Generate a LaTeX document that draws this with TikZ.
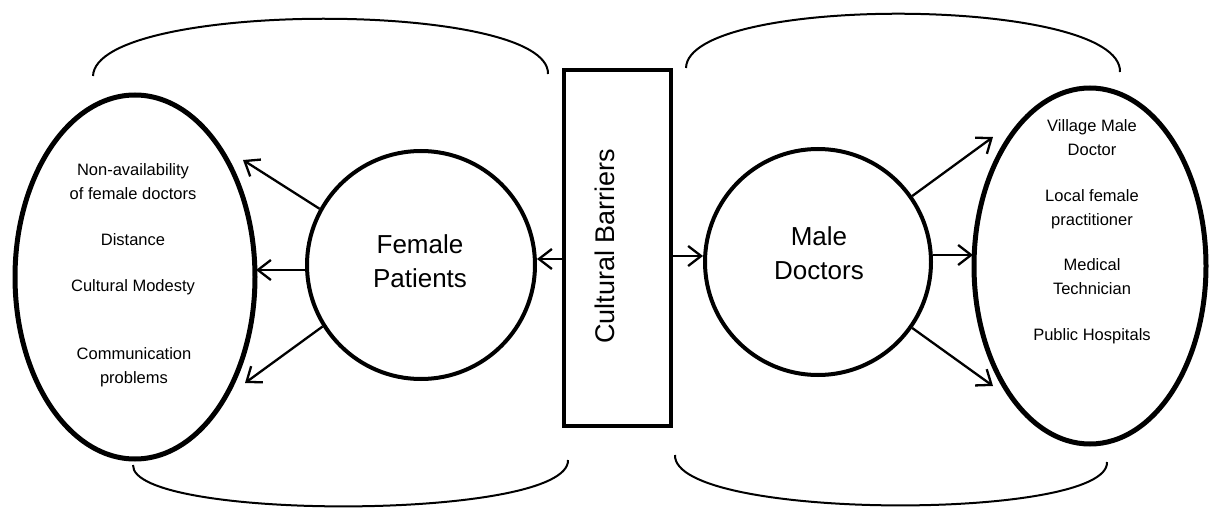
\documentclass[tikz,border=0pt]{standalone}
\usepackage{fontspec}
\setmainfont{Liberation Sans}
\usetikzlibrary{shapes.geometric,arrows.meta,calc}
\begin{document}
\begin{tikzpicture}[x=1pt,y=-1pt,
  bigell/.style={draw, ellipse, line width=5pt, inner sep=0pt},
  circ/.style={draw, circle, line width=4pt, inner sep=0pt},
  bar/.style={draw, line width=4pt, inner sep=0pt},
  arr/.style={line width=2.3pt, -{Straight Barb[length=13pt,width=20pt]}},
  bracket/.style={line width=2pt},
  small/.style={font=\fontsize{16.5}{23.5}\selectfont, align=center, anchor=base, inner sep=0pt},
  big/.style={font=\fontsize{26}{34}\selectfont, align=center, anchor=base, inner sep=0pt},
]
\useasboundingbox[fill=white] (0,0) rectangle (1211,511);

% brackets
\draw[bracket] (93,76) .. controls (96,0) and (550,0) .. (548,74);
\draw[bracket] (686,68) .. controls (688,-6) and (1122,-4) .. (1120,72);
\draw[bracket] (133,465) .. controls (131,521) and (570,521) .. (568,460);
\draw[bracket] (675,455) .. controls (673,521) and (1110,521) .. (1107,462);

% main shapes
\node[bigell, minimum width=240pt, minimum height=364pt] (le) at (135,277) {};
\node[bigell, minimum width=232pt, minimum height=356pt] (re) at (1090,266) {};
\node[circ, minimum size=228pt] (fp) at (421,265) {};
\node[circ, minimum size=226pt] (mc) at (818,262) {};
\node[bar, minimum width=107pt, minimum height=356pt] (cb) at (617.5,248) {};

% labels (base = baseline of the last line)
\node[big] (fpt) at (420,287) {Female\\Patients};
\node[big] (mct) at (819,279) {Male\\Doctors};
\node[font=\fontsize{27}{30}\selectfont, rotate=90, inner sep=0pt] (cbt) at (605,246) {Cultural Barriers};

\node[small] (l1) at (133,199) {Non-availability\\of female doctors};
\node[small] (l2) at (133,245) {Distance};
\node[small] (l3) at (133,291) {Cultural Modesty};
\node[small] (l4) at (134,383) {Communication\\problems};

\node[small] (r1) at (1092,155) {Village Male\\Doctor};
\node[small] (r2) at (1092,225) {Local female\\practitioner};
\node[small] (r3) at (1092,294) {Medical\\Technician};
\node[small] (r4) at (1092,340) {Public Hospitals};

% arrow ends
\coordinate (a1) at (243,160);
\coordinate (a2) at (256,270);
\coordinate (a3) at (245,383);
\coordinate (b1) at (993,137);
\coordinate (b2) at (973,255);
\coordinate (b3) at (993,386);
\coordinate (c1) at (537,259);
\coordinate (c2) at (703,256);

\draw[arr] (fp.151) -- (a1);
\draw[arr] (fp.west |- a2) -- (a2);
\draw[arr] (fp.212) -- (a3);
\draw[arr] (mc.35) -- (b1);
\draw[arr] (mc.east |- b2) -- (b2);
\draw[arr] (mc.-35) -- (b3);
\draw[arr] (cb.west |- c1) -- (c1);
\draw[arr] (cb.east |- c2) -- (c2);
\end{tikzpicture}
\end{document}
